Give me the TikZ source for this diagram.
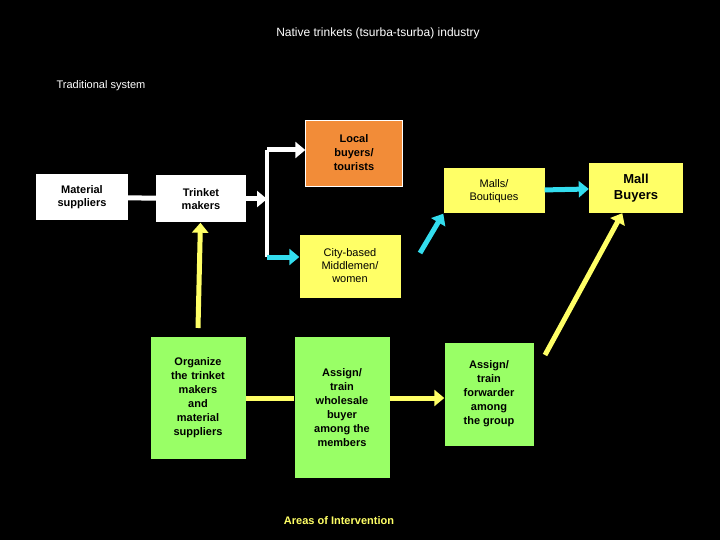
\documentclass[tikz,border=0pt]{standalone}
\usepackage{fontspec}
\setmainfont{Liberation Sans}
\usetikzlibrary{arrows.meta}
\definecolor{boxyellow}{HTML}{FFFF66}
\definecolor{boxgreen}{HTML}{99FF66}
\definecolor{boxorange}{HTML}{F28C38}
\definecolor{flowcyan}{HTML}{33DDEE}
\begin{document}
\begin{tikzpicture}[x=1pt,y=-1pt]
    \tikzstyle{box}=[rectangle, inner sep=1pt, font=\fontsize{11}{13}\selectfont, text centered, align=center];
    \tikzstyle{flow}=[line width=5pt, -{Triangle[length=10pt,width=16pt]}];

    \fill[black] (0,0) rectangle (720,540);
    \useasboundingbox (0,0) rectangle (720,540);

    \node[text=white, font=\fontsize{12}{14}\selectfont] at (378,33) (title) {Native trinkets (tsurba-tsurba) industry};
    \node[text=white, font=\fontsize{11}{13}\selectfont] at (101,86) (trad) {Traditional system};

    \node[box, fill=white, font=\bfseries\fontsize{11}{13}\selectfont, minimum width=92pt, minimum height=46pt] at (82,197) (mat) {Material\\suppliers};
    \node[box, fill=white, font=\bfseries\fontsize{11}{13}\selectfont, minimum width=90pt, minimum height=47pt] at (201,199) (trk) {Trinket\\makers};
    \node[box, fill=boxorange, draw=white, font=\bfseries\fontsize{11}{14}\selectfont, minimum width=97pt, minimum height=66pt] at (354,153) (loc) {Local\\buyers/\\tourists};
    \node[box, fill=boxyellow, minimum width=101pt, minimum height=63pt] at (350,266) (city) {City-based\\Middlemen/\\women};
    \node[box, fill=boxyellow, minimum width=101pt, minimum height=45pt] at (494,191) (mall) {Malls/\\Boutiques};
    \node[box, fill=boxyellow, font=\bfseries\fontsize{13}{16}\selectfont, minimum width=94pt, minimum height=50pt] at (636,188) (buy) {Mall\\Buyers};

    \node[box, fill=boxgreen, font=\bfseries\fontsize{11}{14}\selectfont, minimum width=95pt, minimum height=122pt, text width=90pt] at (198,398) (org) {Organize\\the trinket\\makers\\and\\material\\suppliers\\[0pt]};
    \node[box, fill=boxgreen, font=\bfseries\fontsize{11}{14}\selectfont, minimum width=95pt, minimum height=141pt, anchor=north] at (342,337) (whl) {Assign/\\train\\wholesale\\buyer\\among the\\members};
    \node[box, fill=boxgreen, font=\bfseries\fontsize{11}{14}\selectfont, minimum width=89pt, minimum height=103pt] at (489,394) (fwd) {Assign/\\train\\forwarder\\among\\the group};

    \node[text=boxyellow, font=\bfseries\fontsize{11}{13}\selectfont] at (339,521) (areas) {Areas of Intervention};

    \coordinate (junc) at (267,199);
    \coordinate (jtop) at (267,150);
    \coordinate (jbot) at (267,257);
    \coordinate (orgup) at (198,328);
    \coordinate (fwdup) at (545,355);

    \draw[white, line width=5pt] (mat) -- (trk);
    \draw[white, flow] (trk) -- (junc);
    \draw[white, line width=4pt] (jbot) -- (jtop);
    \draw[white, flow] (jtop) -- (loc.west |- jtop);
    \draw[flowcyan, flow] (jbot) -- (city.west |- jbot);
    \draw[flowcyan, flow] (420,253) -- (mall.south west);
    \draw[flowcyan, flow] (mall) -- (buy);
    \draw[boxyellow, flow] (orgup) -- (trk);
    \draw[boxyellow, flow] (fwdup) -- (buy);
    \draw[boxyellow, line width=5pt] (org) -- (whl.west |- org);
    \draw[boxyellow, flow] (whl.east |- org) -- (fwd.west |- org);
\end{tikzpicture}
\end{document}
